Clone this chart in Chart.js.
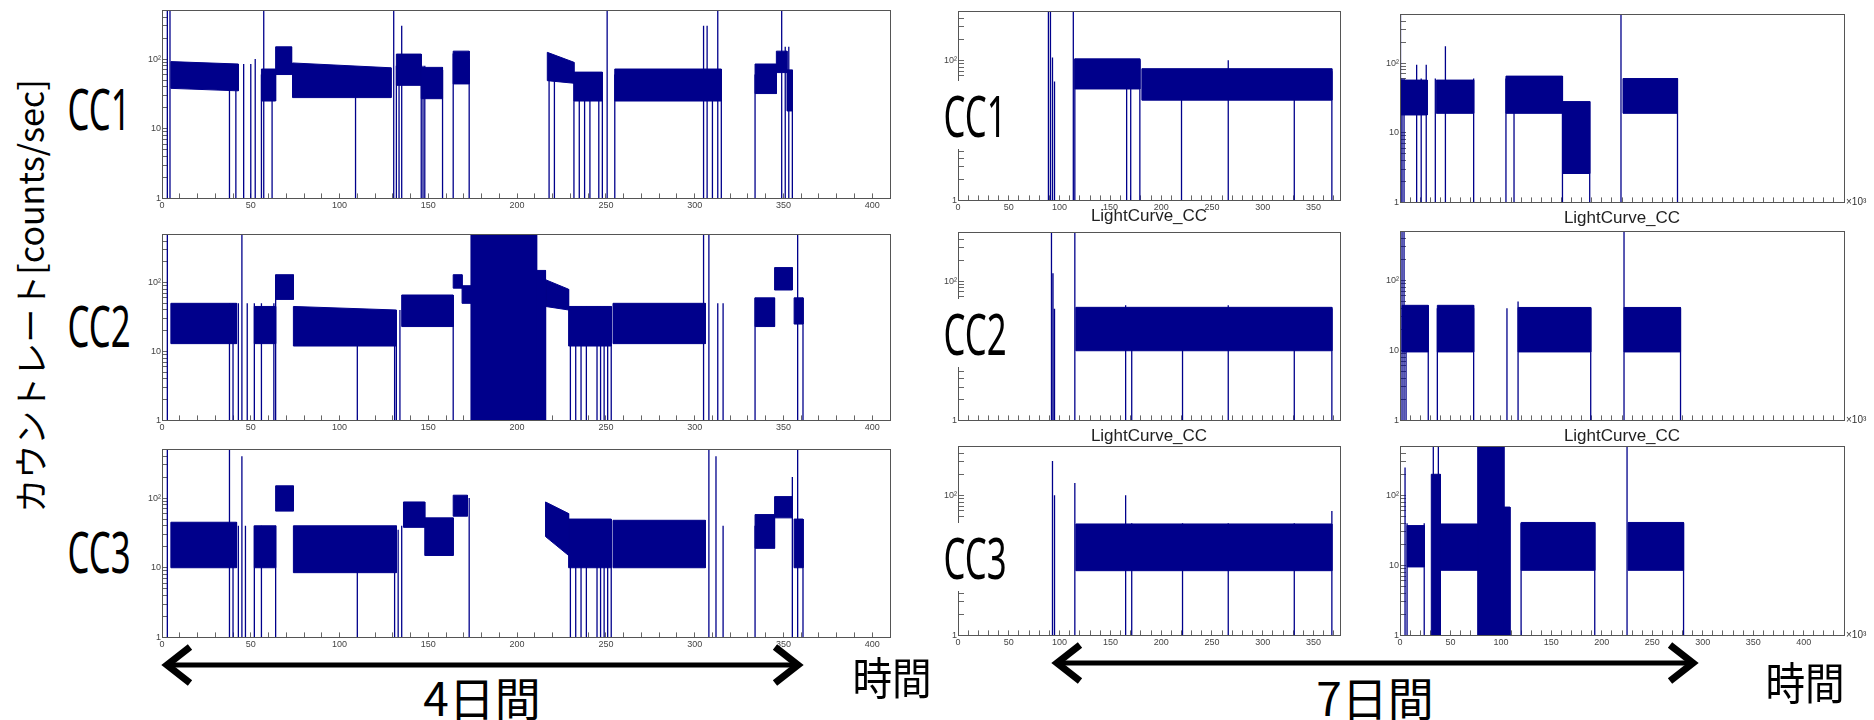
<!DOCTYPE html>
<html>
<head>
<meta charset="utf-8">
<script src="https://cdn.jsdelivr.net/npm/chart.js@4.4.1/dist/chart.umd.min.js"></script>
<style>
body { margin:0; width:1874px; height:720px; background:#fff; position:relative; overflow:hidden; }
.panel { position:absolute; }
.txt { position:absolute; color:#000; white-space:nowrap; line-height:1; font-family:"Noto Sans","Noto Sans CJK JP",sans-serif; }
.cjk { font-family:"Noto Sans CJK JP","Noto Sans",sans-serif; }
.mask { position:absolute; background:#fff; }
.x103 { position:absolute; font:10px "Liberation Sans",sans-serif; color:#333; }
</style>
</head>
<body>
<div class="txt cjk" style="left:30px;top:296px;font-size:34px;transform:translate(-50%,-50%) rotate(-90deg)">カウントレート[counts/sec]</div>

<script>
const BLUE = '#00008b';

// y ticks of the log axes, labelled only at 1, 10, 100
const logTicks = [1,2,3,4,5,6,7,8,9,10,20,30,40,50,60,70,80,90,100,200,300,400,500];

// bands: [x0, x1, low, high, (lowEnd, highEnd)]  spikes: [x, top]
// ---- 4 days (left column)
const cc1_4d_bands = [
  [5,43,38,92,35,85],[56,64,25,72],[64,73,60,150],[73.5,129,28,88,28,75],
  [132,146,42,118],[146,158,27,76],[164,173,44,130],[217,232,49,125,45,90],
  [232,248,25,65],[255,315,25,72],[334,346,32,85],[346,352,64,130],[352,355,18,70]
];
const cc1_4d_spikes = [
  [3,500],[4.5,500],[38,85],[41.6,85],[46,85],[50,85],[52.5,100],[56,60],[57.3,500],[62,70],
  [109,60],[130.5,500],[132,80],[133.5,80],[135,300],[146,80],[147,80],[148,80],[158,70],
  [164,120],[173,100],[218,110],[221,110],[232,60],[235,60],[238,60],[241,60],[246,60],
  [248,60],[250.7,500],[255,60],[305,300],[307,300],[310,60],[313,500],[315,60],[334,60],
  [349,500],[351,150],[353,150],[355,70]
];
const cc2_4d_bands = [
  [5,42,13,50],[52,64,13,45],[64,74,57,130],[74,132,12,45,12,40],[135,164,23,66],
  [164,169,83,130],[169,174,50,90],[174,211,1,500],[211,216,1,150],[216,229,45,110,40,80],
  [229,253,12,45],[254,306,13,50],[334,345,23,60],[345,355,78,165],[356,361,25,60]
];
const cc2_4d_spikes = [
  [3,500],[38,50],[40,50],[43,50],[45,500],[48,50],[52,50],[56,50],[63,50],[64,130],
  [110,40],[131,40],[132,40],[134,40],[164,60],[216,110],[230,45],[233,45],[236,45],
  [239,45],[245,45],[247,45],[249,45],[251,45],[253,45],[305,500],[308,500],[313,50],
  [316,50],[334,60],[358,500],[361,60]
];
const cc3_4d_bands = [
  [5,42,10,45],[52,64,10,40],[64,74,65,150],[74,132,8.5,40],[136,148,38,88],
  [148,164,15,52],[164,172,55,110],[216,229,28,88,15,60],[229,253,10,50],[254,306,10,48],
  [334,345,19,58],[345,355,52,105],[356,361,10,50]
];
const cc3_4d_spikes = [
  [3,500],[38,500],[40,40],[43,40],[45,400],[47,40],[52,40],[56,40],[64,40],[110,35],
  [131,35],[133,35],[135,40],[173,100],[230,50],[233,50],[236,50],[239,50],[245,50],
  [247,50],[249,50],[251,50],[253,50],[308,500],[312,400],[316,40],[334,40],[355,200],
  [358,500],[361,50]
];
// ---- 7 days, first half (middle column)
const cc1_7a_bands = [[115,179,39,105],[181,368,27,76]];
const cc1_7a_spikes = [
  [89,500],[91,500],[93,110],[95,50],[113.5,500],[115,105],[166,100],[170,100],[179,100],
  [220,70],[266,100],[331,70],[368,70]
];
const cc2_7a_bands = [[116,368,10,42]];
const cc2_7a_spikes = [
  [92,500],[93.5,130],[95,40],[115,500],[165,45],[171,40],[221,40],[266,45],[331,40],[368,40]
];
const cc3_7a_bands = [[116,368,8.4,39]];
const cc3_7a_spikes = [
  [93,310],[95,100],[115,150],[165,100],[171,40],[221,40],[266,40],[331,40],[368,60]
];
// ---- 7 days, second half (right column, x10^3)
const cc1_7b_bands = [[1,27,18,57],[36,73,19,57],[105,161,19,65],[161,188,2.6,28],[221,275,19,60]];
const cc1_7b_spikes = [
  [0.5,500],[2,60],[4,60],[16.5,95],[21,60],[26,95],[35,60],[45,175],[73,60],[105,60],
  [113,60],[161,65],[188,28],[219,500],[275,60]
];
const cc2_7b_bands = [[2,28,9.5,44],[37,73,9.5,44],[117,189,9.5,41],[222,278,9.5,41]];
const cc2_7b_spikes = [
  [2,500],[4,500],[6,40],[28,40],[37,40],[73,40],[106,40],[117,50],[189,40],[222,500],[278,40]
];
const cc3_7b_bands = [
  [7,24,9.5,37],[31,40,1,200],[40,77,8.5,39],[77,103,1,500],[103,109,1,68],
  [120,193,8.5,41],[226,281,8.5,41]
];
const cc3_7b_spikes = [
  [5,250],[7,40],[24,40],[33,500],[38,500],[120,40],[193,40],[225,500],[281,40]
];

// frame boxes of the three columns, page pixels
const cols = [
  { left:162, width:728, xmax:410, rows:[[10,198],[234,420],[449,637]] },
  { left:958, width:382, xmax:376, rows:[[11,200],[232,420],[446,635]] },
  { left:1400, width:444, xmax:440, rows:[[14,202],[231,420],[446,635]] }
];

const panels = [
  { col:0, row:0, bands:cc1_4d_bands, spikes:cc1_4d_spikes, xLabels:true,  title:false, ten:true },
  { col:0, row:1, bands:cc2_4d_bands, spikes:cc2_4d_spikes, xLabels:true,  title:false, ten:true },
  { col:0, row:2, bands:cc3_4d_bands, spikes:cc3_4d_spikes, xLabels:true,  title:false, ten:true },
  { col:1, row:0, bands:cc1_7a_bands, spikes:cc1_7a_spikes, xLabels:true,  title:true,  ten:false },
  { col:1, row:1, bands:cc2_7a_bands, spikes:cc2_7a_spikes, xLabels:false, title:true,  ten:false },
  { col:1, row:2, bands:cc3_7a_bands, spikes:cc3_7a_spikes, xLabels:true,  title:false, ten:false },
  { col:2, row:0, bands:cc1_7b_bands, spikes:cc1_7b_spikes, xLabels:false, title:true,  ten:true, x103:true },
  { col:2, row:1, bands:cc2_7b_bands, spikes:cc2_7b_spikes, xLabels:false, title:true,  ten:true, x103:true },
  { col:2, row:2, bands:cc3_7b_bands, spikes:cc3_7b_spikes, xLabels:true,  title:false, ten:true, x103:true }
];

const YW = 30;   // width kept for y labels
const frame = {
  id: 'frame',
  afterDraw(chart) {
    const a = chart.chartArea, c = chart.ctx;
    c.save();
    c.strokeStyle = '#555';
    c.lineWidth = 1;
    c.strokeRect(Math.round(a.left) + 0.5, Math.round(a.top) + 0.5, Math.round(a.right - a.left), Math.round(a.bottom - a.top));
    c.restore();
  }
};

function makePanel(p) {
  const col = cols[p.col];
  const [top, bottom] = col.rows[p.row];
  const XH = p.title ? 26 : 14;
  const div = document.createElement('div');
  div.className = 'panel';
  div.style.left = (col.left - YW) + 'px';
  div.style.top = (top - 2) + 'px';
  div.style.width = (col.width + YW + 3) + 'px';
  div.style.height = (bottom - top + 2 + XH) + 'px';
  const cv = document.createElement('canvas');
  div.appendChild(cv);
  document.body.appendChild(div);

  const datasets = [];
  p.bands.forEach(b => {
    const [x0, x1, lo0, hi0, lo1 = lo0, hi1 = hi0] = b;
    datasets.push({
      data: [{x:x0,y:lo0},{x:x0,y:hi0},{x:x1,y:hi1},{x:x1,y:lo1},{x:x0,y:lo0}],
      showLine: true, fill: 'shape', backgroundColor: BLUE, borderColor: BLUE,
      borderWidth: 1, pointRadius: 0
    });
  });
  datasets.push({
    data: p.spikes.flatMap(s => [{x:s[0],y:1},{x:s[0],y:s[1]},{x:s[0],y:null}]),
    showLine: true, spanGaps: false, fill: false, borderColor: BLUE, borderWidth: 1.3, pointRadius: 0
  });

  const chart = new Chart(cv, {
    type: 'scatter',
    data: { datasets: datasets },
    options: {
      responsive: true,
      maintainAspectRatio: false,
      animation: false,
      layout: { padding: { top: 2, right: 3, left: 0, bottom: 0 } },
      plugins: { legend: { display: false }, tooltip: { enabled: false } },
      scales: {
        x: {
          type: 'linear', min: 0, max: col.xmax,
          afterBuildTicks: s => { s.ticks = []; for (let v = 0; v <= col.xmax; v += 10) s.ticks.push({ value: v }); },
          afterFit: s => { s.height = XH; },
          ticks: {
            display: p.xLabels, autoSkip: false, maxRotation: 0, padding: 7,
            font: { size: 9, family: 'Liberation Sans' }, color: '#444',
            callback: v => (v % 50 === 0 ? v : '')
          },
          grid: { drawOnChartArea: false, tickLength: -5, color: '#666' },
          border: { display: false },
          title: {
            display: p.title, text: 'LightCurve_CC', color: '#222',
            font: { size: 17, family: 'Liberation Sans' }, padding: { top: 0, bottom: 0 }
          }
        },
        y: {
          type: 'logarithmic', min: 1, max: 500,
          afterBuildTicks: s => { s.ticks = logTicks.map(v => ({ value: v })); },
          afterFit: s => { s.width = YW; },
          ticks: {
            autoSkip: false, padding: 7,
            font: { size: 9, family: 'Liberation Sans' }, color: '#444',
            callback: v => (v === 1 ? '1' : v === 10 ? (p.ten ? '10' : '') : v === 100 ? '10\u00b2' : '')
          },
          grid: { drawOnChartArea: false, tickLength: -6, color: '#666' },
          border: { display: false }
        }
      }
    },
    plugins: [frame]
  });

  // move the canvas so that the plot frame lands on the wanted box
  const ca = chart.chartArea;
  const dl = ca.left, dt = ca.top, dr = chart.width - ca.right, db = chart.height - ca.bottom;
  div.style.left = (col.left - dl) + 'px';
  div.style.top = (top - dt) + 'px';
  div.style.width = (col.width + dl + dr) + 'px';
  div.style.height = (bottom - top + dt + db) + 'px';
  chart.resize();

  if (p.x103) {
    const t = document.createElement('div');
    t.className = 'x103';
    t.style.left = (col.left + col.width + 2) + 'px';
    t.style.top = (bottom - 6) + 'px';
    t.textContent = '\u00d710\u00b3';
    document.body.appendChild(t);
  }
}

panels.forEach(makePanel);

// labels on top of the charts
const labels = [
  ['CC1', 99, 108, true], ['CC2', 99, 325, true], ['CC3', 99, 551, true],
  ['CC1', 975, 115, false], ['CC2', 975, 333, false], ['CC3', 975, 557, false]
];
labels.forEach(([t, x, y, leftCol]) => {
  if (!leftCol) {
    const m = document.createElement('div');
    m.className = 'mask';
    m.style.cssText += `left:${x - 44}px;top:${y - 34}px;width:86px;height:68px;`;
    document.body.appendChild(m);
  }
  const d = document.createElement('div');
  d.className = 'txt';
  d.style.cssText += `left:${x}px;top:${y}px;font-size:56px;transform:translate(-50%,-50%) scaleX(0.62);`;
  d.textContent = t;
  document.body.appendChild(d);
});

const words = [
  ['4日間', 482, 696, 46, 1], ['7日間', 1375, 696, 46, 1], ['時間', 892, 676, 44, 0.9], ['時間', 1805, 681, 44, 0.9]
];
words.forEach(([t, x, y, fs, sx]) => {
  const d = document.createElement('div');
  d.className = 'txt cjk';
  d.style.cssText += `left:${x}px;top:${y}px;font-size:${fs}px;transform:translate(-50%,-50%) scaleX(${sx});`;
  d.textContent = t;
  document.body.appendChild(d);
});
</script>

<svg style="position:absolute;left:0;top:0" width="1874" height="720">
  <g stroke="#000" fill="none" stroke-linejoin="miter">
    <line x1="168" y1="665" x2="797" y2="665" stroke-width="5"/>
    <polyline points="190,647 167,665 190,683" stroke-width="7"/>
    <polyline points="775,647 798,665 775,683" stroke-width="7"/>
    <line x1="1058" y1="663" x2="1692" y2="663" stroke-width="5"/>
    <polyline points="1080,645 1057,663 1080,681" stroke-width="7"/>
    <polyline points="1670,645 1693,663 1670,681" stroke-width="7"/>
  </g>
</svg>
</body>
</html>
